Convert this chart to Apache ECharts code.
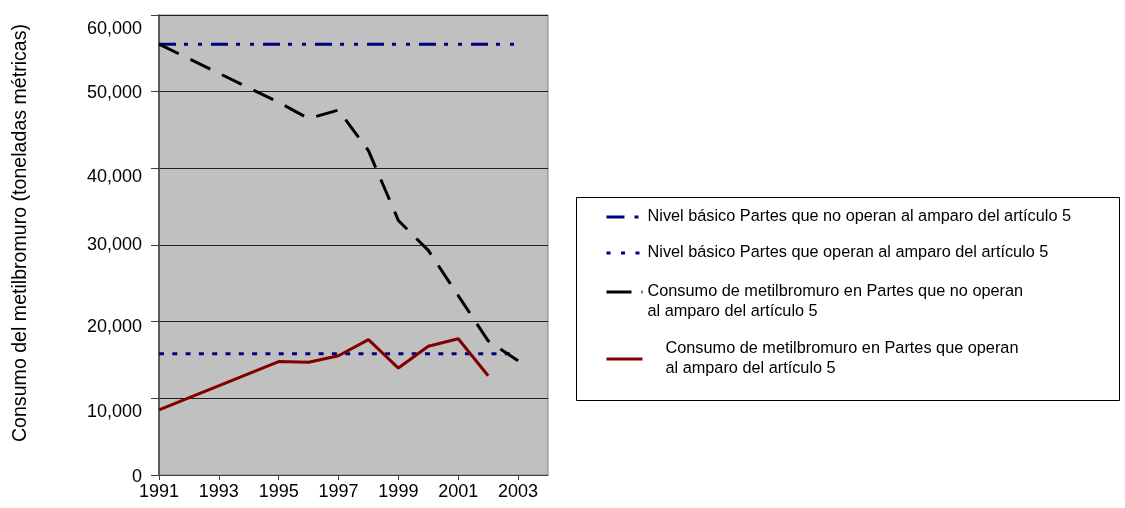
<!DOCTYPE html>
<html>
<head>
<meta charset="utf-8">
<script src="https://cdn.jsdelivr.net/npm/echarts@6/dist/echarts.min.js"></script>
<style>
  html, body { margin: 0; padding: 0; background: #fff; }
  #chart { width: 1125px; height: 508px; }
</style>
</head>
<body>
<div id="chart"></div>
<script>
// años (la categoría 2004 solo cierra el área de trazado)
const years = ['1991', '1992', '1993', '1994', '1995', '1996', '1997', '1998', '1999', '2000', '2001', '2002', '2003', '2004']
const baseNoA5 = [56200, 56200, 56200, 56200, 56200, 56200, 56200, 56200, 56200, 56200, 56200, 56200, 56200, null]
const baseA5 = [15800, 15800, 15800, 15800, 15800, 15800, 15800, 15800, 15800, 15800, 15800, 15800, 15800, null]
const consNoA5 = [56200, null, null, null, 48600, 46500, 47600, 42300, 33200, 29300, 23400, 17500, 14900, null]
const consA5 = [8500, null, null, null, 14800, 14700, 15550, 17650, 13950, 16800, 17780, 12950, null, null]

const names = [
  'Nivel básico Partes que no operan al amparo del artículo 5',
  'Nivel básico Partes que operan al amparo del artículo 5',
  'Consumo de metilbromuro en Partes que no operan al amparo del artículo 5',
  'Consumo de metilbromuro en Partes que operan al amparo del artículo 5'
]

const font = 'Liberation Sans, Arial, sans-serif'

// desplazamiento vertical de las etiquetas del eje Y, como en el original
const yLabelShift = { 0: 2, 10000: 14, 20000: 5, 30000: 0, 40000: 9, 50000: 1, 60000: 14 }

const chart = echarts.init(document.getElementById('chart'))

function legendItem(name, top, lineStyle, fmt, textPadding) {
  return {
    data: [name],
    left: 605,
    top: top,
    padding: 0,
    itemWidth: 36,
    itemHeight: 14,
    selectedMode: false,
    lineStyle: lineStyle,
    itemStyle: { color: 'rgba(0,0,0,0)', borderWidth: 0, opacity: 0 },
    formatter: fmt,
    textStyle: { fontFamily: font, fontSize: 16.3, lineHeight: 20, color: '#000', padding: textPadding }
  }
}

const rich = {}
Object.keys(yLabelShift).forEach((k) => {
  rich['s' + k] = { fontFamily: font, fontSize: 18, color: '#000', padding: [yLabelShift[k] * 2, 0, 0, 0] }
})

const options = {
  animation: false,
  backgroundColor: '#fff',
  grid: {
    left: 159,
    right: 577,
    top: 15,
    bottom: 33,
    show: true,
    backgroundColor: '#c0c0c0',
    borderColor: '#808080',
    borderWidth: 1
  },
  graphic: [
    {
      type: 'rect',
      z: 1,
      shape: { x: 576.5, y: 197.5, width: 543, height: 203 },
      style: { fill: '#fff', stroke: '#000', lineWidth: 1 }
    }
  ],
  legend: [
    legendItem(names[0], 207, { type: [18, 10, 4, 20], width: 3, cap: 'butt' }, (n) => n, 0),
    legendItem(names[1], 243, { type: [4, 10.5], width: 3, cap: 'butt' }, (n) => n, 0),
    legendItem(names[2], 262, { type: [25, 10, 1.5, 100], width: 3, cap: 'butt' },
      (n) => '\n' + n.replace(' al amparo', '\nal amparo'), 0),
    legendItem(names[3], 339, { width: 3, cap: 'butt' },
      (n) => n.replace(' al amparo', '\nal amparo'), [0, 0, 0, 18])
  ],
  xAxis: {
    type: 'category',
    data: years,
    boundaryGap: false,
    axisLine: { lineStyle: { color: '#404040', width: 1 } },
    axisTick: { interval: 1, length: 5, lineStyle: { color: '#404040' } },
    axisLabel: { interval: 1, margin: 8, fontFamily: font, fontSize: 18, color: '#000' },
    splitLine: { show: false }
  },
  yAxis: {
    type: 'value',
    min: 0,
    max: 60000,
    interval: 10000,
    name: 'Consumo del metilbromuro (toneladas métricas)',
    nameLocation: 'middle',
    nameGap: 128,
    nameTextStyle: { fontFamily: font, fontSize: 19.6, color: '#000', padding: [0, 0, 0, 24] },
    axisLine: { show: true, lineStyle: { color: '#404040', width: 1.5 } },
    axisTick: { show: true, length: 8, lineStyle: { color: '#404040' } },
    axisLabel: {
      margin: 17,
      fontFamily: font,
      fontSize: 18,
      color: '#000',
      formatter: (v) => '{s' + v + '|' + v.toLocaleString('en-US') + '}',
      rich: rich
    },
    splitLine: { lineStyle: { color: '#202020', width: 1 } }
  },
  series: [
    {
      name: names[0],
      type: 'line',
      data: baseNoA5,
      symbol: 'none',
      silent: true,
      lineStyle: { color: '#000080', width: 3, type: [17, 8, 4, 10, 4, 9], cap: 'butt' },
      itemStyle: { color: '#000080' }
    },
    {
      name: names[1],
      type: 'line',
      data: baseA5,
      symbol: 'none',
      silent: true,
      lineStyle: { color: '#000080', width: 3, type: [5, 8.3], cap: 'butt' },
      itemStyle: { color: '#000080' }
    },
    {
      name: names[2],
      type: 'line',
      data: consNoA5,
      connectNulls: true,
      symbol: 'none',
      silent: true,
      lineStyle: { color: '#000', width: 3, type: [22, 13], cap: 'butt' },
      itemStyle: { color: '#000' }
    },
    {
      name: names[3],
      type: 'line',
      data: consA5,
      connectNulls: true,
      symbol: 'none',
      silent: true,
      lineStyle: { color: '#800000', width: 3 },
      itemStyle: { color: '#800000' }
    }
  ]
}

chart.setOption(options)
</script>
</body>
</html>
